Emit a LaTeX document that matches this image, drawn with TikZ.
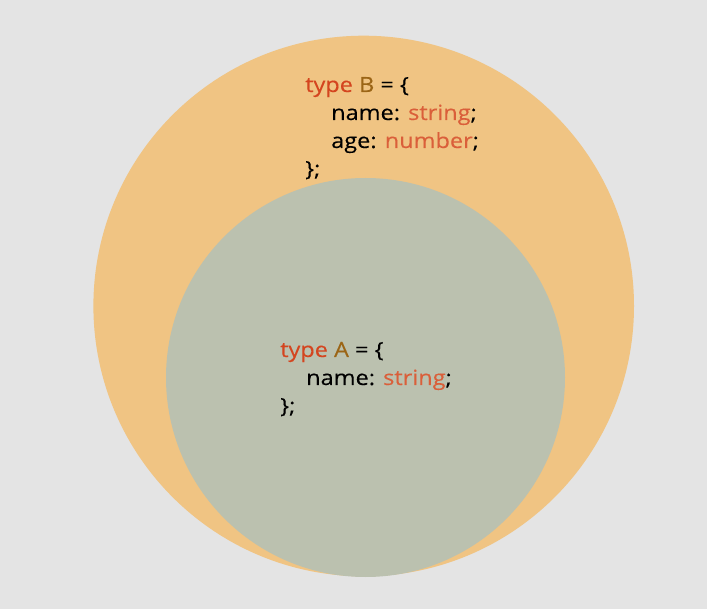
\documentclass[tikz,border=0pt]{standalone}
\usepackage{fontspec}
\setmainfont{Open Sans}[FakeStretch=1.12, FakeBold=0.25]
\usepackage{xcolor}
\usetikzlibrary{positioning}

\definecolor{bggrey}{HTML}{E4E4E4}
\definecolor{outerfill}{HTML}{F0C483}
\definecolor{innerfill}{HTML}{BBC1AF}
\definecolor{kwred}{HTML}{D4451F}
\definecolor{tnbrown}{HTML}{9B6516}
\definecolor{tyorange}{HTML}{DA5F3A}

\newcommand{\kw}[1]{\textcolor{kwred}{#1}}
\newcommand{\tname}[1]{\textcolor{tnbrown}{#1}}
\newcommand{\ty}[1]{\textcolor{tyorange}{#1}}

\begin{document}
\begin{tikzpicture}[x=1pt, y=-1pt, outercircle/.style={circle, fill=outerfill, inner sep=0pt, minimum size=540.6pt}, innercircle/.style={circle, fill=innerfill, inner sep=0pt, minimum size=399pt}, codeline/.style={anchor=base west, inner sep=0pt, font=\fontsize{21}{28}\selectfont}]

    \useasboundingbox[fill=bggrey] (0,0) rectangle (707,609);

    %Circles
    \node[outercircle](typeB) at (363.7,306) {};
    \node[innercircle](typeA) at (365.5,377.5) {};

    %Type B
    \node[codeline](bone) at (305,92) {\kw{type} \tname{B} = \{};
    \node[codeline](btwo) at (331,120) {name: \ty{string};};
    \node[codeline](bthree) at (331,148) {age: \ty{number};};
    \node[codeline](bfour) at (305,176) {\};};

    %Type A
    \node[codeline](aone) at (280,357) {\kw{type} \tname{A} = \{};
    \node[codeline](atwo) at (306,385) {name: \ty{string};};
    \node[codeline](athree) at (280,413) {\};};

\end{tikzpicture}
\end{document}
